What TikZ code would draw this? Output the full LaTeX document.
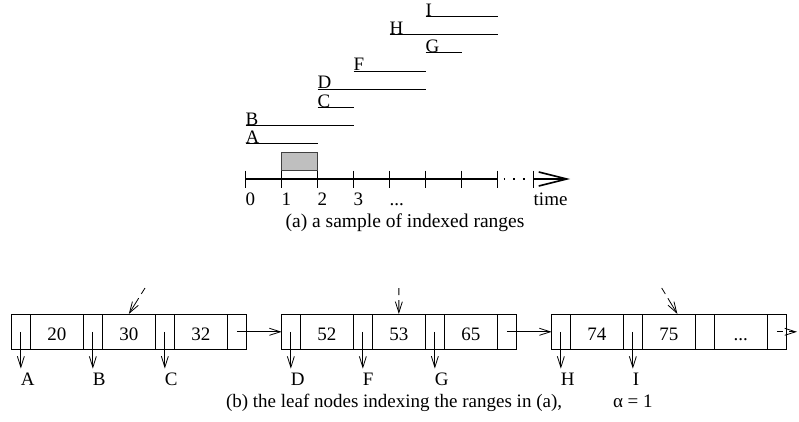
\documentclass[tikz,border=0pt]{standalone}
\usepackage{fontspec}
\setmainfont{Liberation Serif}
\usetikzlibrary{arrows.meta,calc}
\newcommand\figfont{\fontsize{19}{22}\selectfont}
\newcommand\tdots{...}
\begin{document}
\begin{tikzpicture}[x=1pt,y=-1pt,
  lbl/.style={inner sep=0pt, outer sep=0pt, anchor=base west, font=\figfont},
  rangeline/.style={line width=0.8pt},
  tickline/.style={line width=0.8pt},
  axisline/.style={line width=1.6pt},
  pcell/.style={draw, line width=0.8pt, outer sep=0pt, inner sep=0pt,
    minimum width=18.3pt, minimum height=35.7pt, anchor=west},
  kcell/.style={pcell, minimum width=53.7pt, font=\figfont,
    text height=16.4pt, text depth=0pt},
  ptr/.style={line width=0.8pt, -{Straight Barb[length=11pt,width=7pt]}},
  inptr/.style={ptr, dash pattern=on 7pt off 5pt on 40pt off 0pt}]
\useasboundingbox (0,0) rectangle (799,422);

% ---- (a) time axis ----
\foreach \k in {0,...,8} \coordinate (T\k) at ({245.7+36*\k},179);
\coordinate (Tend) at (570,179);
\fill[black!25] ($(T1)+(0,-26.7)$) rectangle ($(T2)+(0,-9)$);
\draw[line width=0.8pt, black!75] ($(T1)+(0,-26.7)$) rectangle ($(T2)+(0,-9)$);
\draw[axisline] (T0) -- (T7);
\draw[axisline, dash pattern=on 1.6pt off 8pt] ($(T7)+(6,0)$) -- ($(T8)+(-3,0)$);
\draw[axisline, -{Straight Barb[length=28pt,width=14pt]}] (T8) -- (Tend);
\foreach \k in {0,...,8}
  \draw[tickline] ($(T\k)+(0,-8.5)$) -- ($(T\k)+(0,9)$);
\foreach \k/\t in {0/0,1/1,2/2,3/3,4/\tdots,8/time}
  \node[lbl] (TL\k) at ($(T\k)+(0,26)$) {\t};

% ranges above the axis
\foreach \nm/\a/\b/\y in {A/0/2/143.3, B/0/3/125.7, C/2/3/107.3, D/2/5/89,
                          F/3/5/71, G/5/6/52.7, H/4/7/34.3, I/5/7/16.7} {
  \node[lbl] (R\nm) at ({245.7+36*\a},\y) {\nm};
  \coordinate (R\nm end) at ({245.7+36*\b},\y);
  \draw[rangeline] (R\nm.base west) -- (R\nm end);
}
\node[lbl, anchor=base, font=\fontsize{19.5}{22}\selectfont] (capa) at (405,227) {(a) a sample of indexed ranges};

% ---- (b) leaf nodes ----
\foreach \n/\xo/\ka/\kb/\kc in {1/0/20/30/32, 2/270/52/53/65, 3/540/74/75/\tdots} {
  \node[pcell] (L\n-p1) at ({11.7+\xo},331.8) {};
  \node[kcell] (L\n-k1) at (L\n-p1.east) {\ka};
  \node[pcell] (L\n-p2) at (L\n-k1.east) {};
  \node[kcell] (L\n-k2) at (L\n-p2.east) {\kb};
  \node[pcell] (L\n-p3) at (L\n-k2.east) {};
  \node[kcell] (L\n-k3) at (L\n-p3.east) {\kc};
  \node[pcell] (L\n-p4) at (L\n-k3.east) {};
}

% child pointers
\foreach \c/\lab in {L1-p1/A, L1-p2/B, L1-p3/C, L2-p1/D, L2-p2/F, L2-p3/G, L3-p1/H, L3-p2/I} {
  \node[lbl] (P\lab) at ($(\c.center)+(0,53.3)$) {\lab};
  \draw[ptr, shorten >=4pt] (\c.center) -- (\c.center |- P\lab.north);
}

% sibling links
\draw[ptr] (L1-p4.center) -- (L2-p1.west);
\draw[ptr] (L2-p4.center) -- (L3-p1.west);
\coordinate (out) at (797,331.8);
\draw[ptr, dash pattern=on 6.5pt off 6pt on 30pt off 0pt] (L3-p4.center) -- (out);

% entries from the parent level
\coordinate (in1) at (145,288);
\coordinate (in2) at (398.85,288);
\coordinate (in3) at (661.7,288);
\draw[inptr] (in1) -- (L1-k2.north);
\draw[inptr] (in2) -- (L2-k2.north);
\draw[inptr] (in3) -- ($(L3-k2.north)+(8.5,0)$);

\node[lbl] (capb) at (226,407) {(b) the leaf nodes indexing the ranges in (a),};
\node[lbl] (alpha) at (613,407) {α = 1};
\end{tikzpicture}
\end{document}
